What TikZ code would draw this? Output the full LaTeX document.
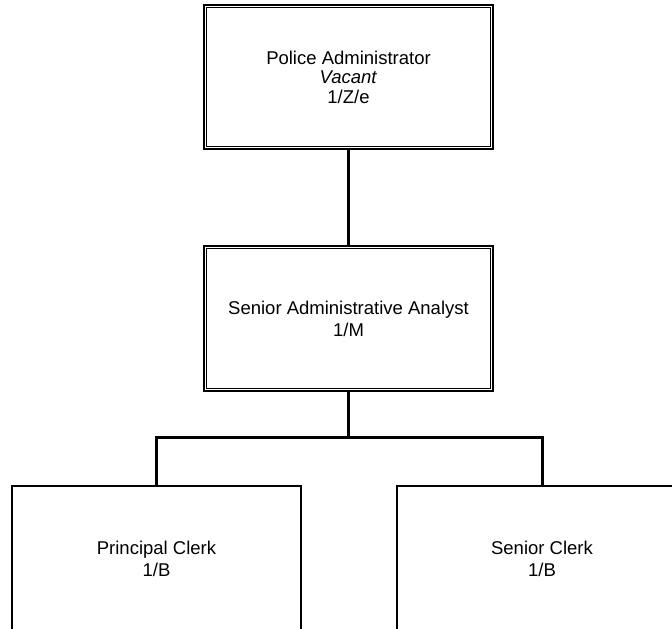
\documentclass[tikz,border=0pt]{standalone}
\usepackage{fontspec}
\setmainfont{Liberation Sans}
\begin{document}
\begin{tikzpicture}[x=1pt,y=-1pt,
  outerbox/.style={draw=black,line width=2.5pt,fill=white,rectangle,inner sep=0pt,
    align=center,font=\fontsize{18.5}{22}\selectfont,minimum width=289pt},
  clerkbox/.style={draw=black,line width=2pt,fill=white,rectangle,inner sep=0pt,
    align=center,font=\fontsize{18.5}{22}\selectfont,minimum width=289pt,minimum height=146pt},
  innerline/.style={draw=black,line width=1.4pt},
  conn/.style={draw=black,line width=3pt}]
\useasboundingbox (0,0) rectangle (672,629);
\fill[white] (0,0) rectangle (672,629);
% connectors first
\coordinate (bar) at (348.5,437.5);
\node[outerbox,minimum height=144pt,font=\fontsize{18.5}{19.5}\selectfont] (pa) at (348.5,77)
  {Police Administrator\\\textit{Vacant}\\1/Z/e};
\node[outerbox,minimum height=145pt] (saa) at (348.5,318.5)
  {Senior Administrative Analyst\\1/M};
\node[clerkbox] (pc) at (156.5,559) {Principal Clerk\\1/B};
\node[clerkbox,minimum width=290pt] (sc) at (542,559) {Senior Clerk\\1/B};
\draw[innerline] ([shift={(4pt,-4pt)}]pa.north west) rectangle ([shift={(-4pt,4pt)}]pa.south east);
\draw[innerline] ([shift={(4pt,-4pt)}]saa.north west) rectangle ([shift={(-4pt,4pt)}]saa.south east);
\draw[conn] (pa.south) -- (saa.north);
\draw[conn] (saa.south) -- (bar);
\draw[conn] (bar) -| (pc.north);
\draw[conn] (bar) -| (sc.north);
\end{tikzpicture}
\end{document}
